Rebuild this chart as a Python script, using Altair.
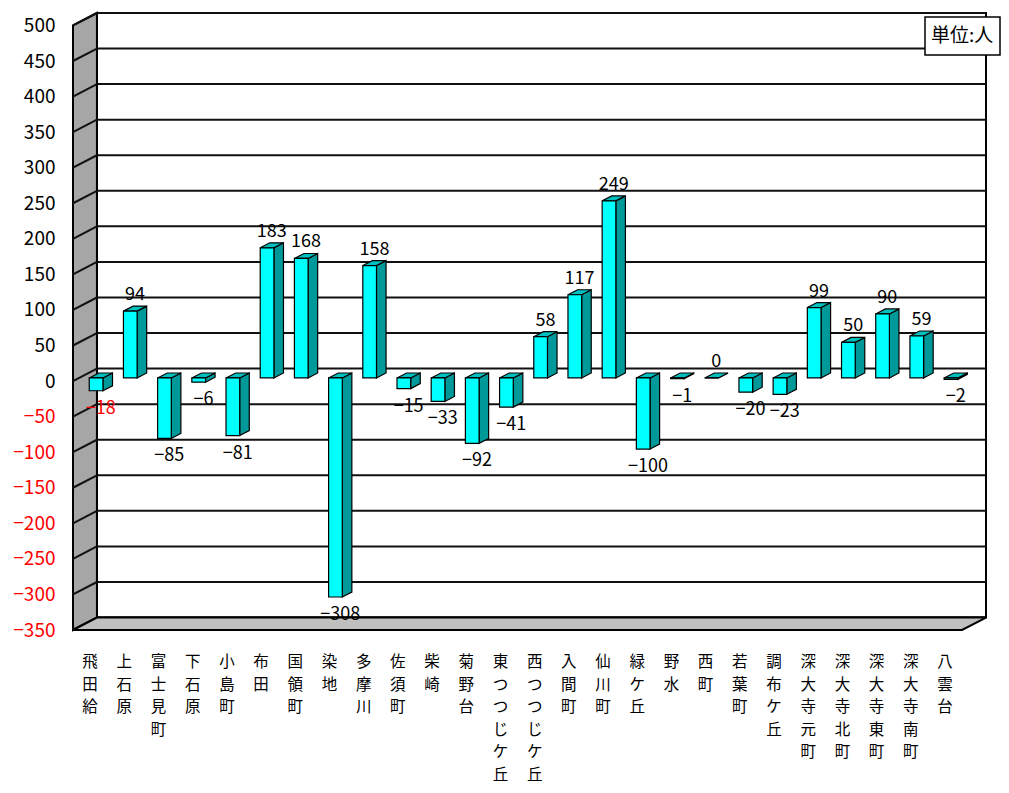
import altair as alt
import pandas as pd

# ---------------- data ----------------
categories = ["飛田給", "上石原", "富士見町", "下石原", "小島町", "布田", "国領町", "染地",
              "多摩川", "佐須町", "柴崎", "菊野台", "東つつじケ丘", "西つつじケ丘", "入間町",
              "仙川町", "緑ケ丘", "野水", "西町", "若葉町", "調布ケ丘", "深大寺元町",
              "深大寺北町", "深大寺東町", "深大寺南町", "八雲台"]
values = [-18, 94, -85, -6, -81, 183, 168, -308, 158, -15, -33, -92, -41, 58, 117,
          249, -100, -1, 0, -20, -23, 99, 50, 90, 59, -2]
y_ticks = list(range(-350, 501, 50))
red_labels = ["飛田給"]
unit_text = "単位:人"

# ---------------- 3D geometry (style constants) ----------------
N = len(categories)
YMIN, YMAX = -350, 500
DXU = 0.70      # wall depth in category units
DYV = 17.5      # wall depth in value units
F = 0.25        # depth position of bar front face
BW = 0.40       # bar width (category units)
BD = 0.40       # bar depth fraction
bdx, bdy = BD * DXU, BD * DYV
s = F * DYV
H = 617
PXU = (YMAX + DYV - YMIN) / H   # value units per pixel
ROW0, ROWH = 642, 22.6          # category label rows (pixels below plot top)

FONT = "Noto Sans CJK JP"
xs = alt.Scale(domain=[0, N + DXU], nice=False, zero=False)
ys = alt.Scale(domain=[YMIN, YMAX + DYV], nice=False, zero=False)

front_rows, side_rows, top_rows, pos_lab, neg_lab = [], [], [], [], []
for i, (c, v) in enumerate(zip(categories, values)):
    x0 = i + 0.5 - BW / 2 + F * DXU
    lo, hi = min(0, v) + s, max(0, v) + s
    front_rows.append(dict(id=i, x=x0, x2=x0 + BW, y=lo, y2=hi))
    side_rows += [dict(id=i, x=x0 + BW, y=lo, y2=hi),
                  dict(id=i, x=x0 + BW + bdx, y=lo + bdy, y2=hi + bdy)]
    T = hi
    top_rows += [dict(id=i, x=x0, y=T, y2=T),
                 dict(id=i, x=x0 + bdx, y=T, y2=T + bdy),
                 dict(id=i, x=x0 + BW, y=T, y2=T + bdy),
                 dict(id=i, x=x0 + BW + bdx, y=T + bdy, y2=T + bdy)]
    cx = x0 + (BW + bdx) / 2
    lab = str(v).replace("-", "\u2212")
    if v >= 0:
        pos_lab.append(dict(cat=c, x=cx, y=T + bdy, t=lab))
    else:
        neg_lab.append(dict(cat=c, x=cx, y=lo, t=lab))

front_df = pd.DataFrame(front_rows)
side_df = pd.DataFrame(side_rows)
top_df = pd.DataFrame(top_rows)
pos_df = pd.DataFrame(pos_lab)
neg_df = pd.DataFrame(neg_lab)

back_df = pd.DataFrame([dict(x=DXU, x2=N + DXU, y=YMIN + DYV, y2=YMAX + DYV)])
grid_df = pd.DataFrame([dict(x=DXU, x2=N + DXU, y=t + DYV) for t in y_ticks])
diag_df = pd.DataFrame([dict(x=0, x2=DXU, y=t, y2=t + DYV) for t in y_ticks])
lwall_df = pd.DataFrame([dict(x=0, y=YMIN, y2=YMAX),
                         dict(x=DXU, y=YMIN + DYV, y2=YMAX + DYV)])
floor_df = pd.DataFrame([dict(x=0, y=YMIN, y2=YMIN),
                         dict(x=DXU, y=YMIN, y2=YMIN + DYV),
                         dict(x=N, y=YMIN, y2=YMIN + DYV),
                         dict(x=N + DXU, y=YMIN + DYV, y2=YMIN + DYV)])
cat_rows = []
for i, c in enumerate(categories):
    for r, ch in enumerate(c):
        cat_rows.append(dict(x=i + 0.5, y=YMAX + DYV - (ROW0 + r * ROWH) * PXU, t=ch))
cat_df = pd.DataFrame(cat_rows)
one_df = pd.DataFrame([dict(t=unit_text)])

yaxis = alt.Axis(values=y_ticks, ticks=False, domain=False, grid=False, title=None,
                 labelPadding=18, labelFontSize=19, labelFont=FONT, labelFlush=False,
                 labelColor={"condition": {"test": "datum.value < 0", "value": "#ff0000"},
                             "value": "#000000"})

X = lambda: alt.X("x:Q", scale=xs, axis=None)
X2 = lambda: alt.X2("x2:Q")
Y = lambda: alt.Y("y:Q", scale=ys, axis=yaxis)

back = alt.Chart(back_df).mark_rect(fill="white", stroke="black", strokeWidth=2).encode(
    x=X(), x2=X2(), y=Y(), y2="y2:Q")

grid = alt.Chart(grid_df).mark_rule(color="#111111", strokeWidth=2).encode(
    x=X(), x2=X2(), y=Y())

lwall = alt.Chart(lwall_df).mark_area(fill="#a6a6a6", stroke="black", strokeWidth=2,
                                      orient="vertical").encode(
    x=X(), y=Y(), y2="y2:Q")

diag = alt.Chart(diag_df).mark_rule(color="#111111", strokeWidth=2).encode(
    x=X(), x2=X2(), y=Y(), y2="y2:Q")

floor = alt.Chart(floor_df).mark_area(fill="#c0c0c0", stroke="black", strokeWidth=2,
                                      orient="vertical").encode(
    x=X(), y=Y(), y2="y2:Q")

side = alt.Chart(side_df).mark_area(fill="#009999", stroke="black", strokeWidth=1.2,
                                    orient="vertical").encode(
    x=X(), y=Y(), y2="y2:Q", detail="id:N")

top = alt.Chart(top_df).mark_area(fill="#00bfbf", stroke="black", strokeWidth=1.2,
                                  orient="vertical").encode(
    x=X(), y=Y(), y2="y2:Q", detail="id:N")

front = alt.Chart(front_df).mark_rect(fill="#00ffff", stroke="black", strokeWidth=1.2).encode(
    x=X(), x2=X2(), y=Y(), y2="y2:Q")

lab_color = alt.condition(alt.FieldOneOfPredicate(field="cat", oneOf=red_labels),
                          alt.value("#ff0000"), alt.value("#000000"))

pos_text = alt.Chart(pos_df).mark_text(font=FONT, fontSize=18, baseline="bottom", dy=-2).encode(
    x=X(), y=Y(), text="t:N", color=lab_color)

neg_text = alt.Chart(neg_df).mark_text(font=FONT, fontSize=18, baseline="top", dy=9).encode(
    x=X(), y=Y(), text="t:N", color=lab_color)

cat_text = alt.Chart(cat_df).mark_text(font=FONT, fontSize=15.5, baseline="top",
                                       color="black").encode(
    x=X(), y=Y(), text="t:N")

unit_box = alt.Chart(one_df).mark_rect(fill="white", stroke="black", strokeWidth=1.5).encode(
    x=alt.value(852), x2=alt.value(927), y=alt.value(4), y2=alt.value(42))

unit_lab = alt.Chart(one_df).mark_text(font=FONT, fontSize=19, align="left", baseline="middle",
                                       color="black").encode(
    x=alt.value(858), y=alt.value(23), text="t:N")

chart = alt.layer(back, grid, lwall, diag, floor, side, top, front, pos_text, neg_text,
                  cat_text, unit_box, unit_lab).properties(
    width=913, height=H,
    autosize=alt.AutoSizeParams(type="none"),
    padding={"left": 65, "top": 5, "right": 15, "bottom": 155},
    background="white",
).configure_view(strokeWidth=0)

chart.save("out.html", embed_options={"renderer": "svg", "actions": False})
